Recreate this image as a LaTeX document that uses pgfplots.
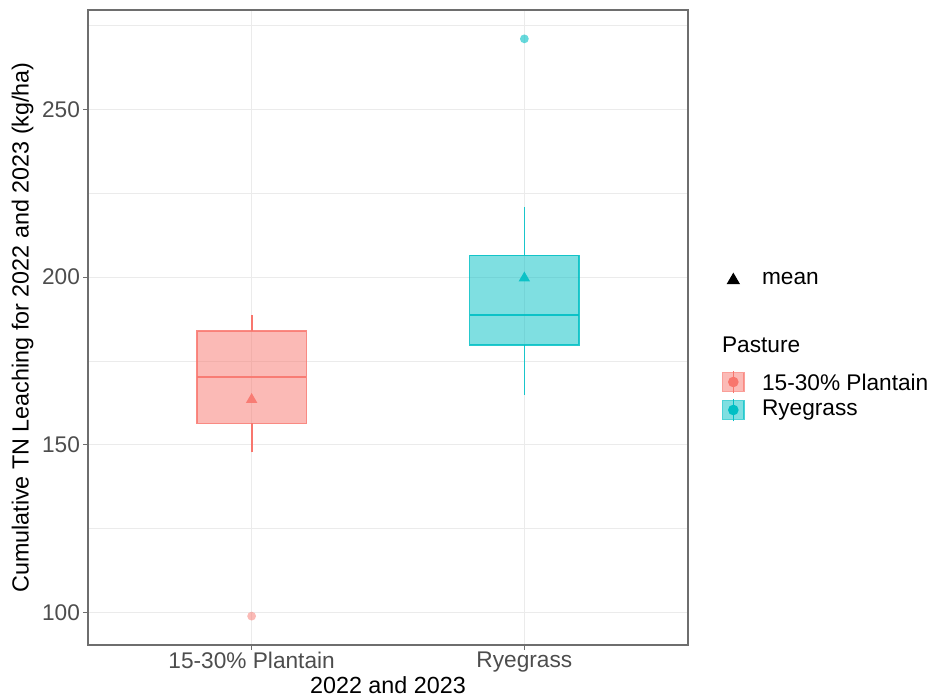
\documentclass[border=0pt]{standalone}
\usepackage{fontspec}
\setmainfont{Liberation Sans}
\usepackage{pgfplots}
\pgfplotsset{compat=1.18}
\definecolor{plantcol}{HTML}{F8766D}
\definecolor{ryecol}{HTML}{00BFC4}
\definecolor{gridcol}{HTML}{EBEBEB}
\definecolor{tickcol}{HTML}{4D4D4D}
\definecolor{bordercol}{HTML}{6E6E6E}
\begin{document}
\begin{tikzpicture}
\path[use as bounding box] (-66pt,-40.5pt) rectangle (633.75pt,483.75pt);
\begin{axis}[
  at={(0,0)}, anchor=south west,
  scale only axis, width=450pt, height=476.25pt,
  xmin=0.4, xmax=2.6, ymin=90.4, ymax=279.6,
  xtick={1,2}, xticklabels={15-30\% Plantain, Ryegrass},
  ytick={100,150,200,250}, minor ytick={125,175,225,275},
  xmajorgrids, ymajorgrids, yminorgrids,
  grid style={gridcol, line width=0.8pt},
  minor grid style={gridcol, line width=0.6pt},
  axis line style={bordercol, line width=0.8pt},
  tick style={bordercol, line width=0.8pt},
  major tick length=3.5pt, minor tick length=0pt,
  tick align=outside, xtick pos=bottom, ytick pos=left,
  /pgf/number format/assume math mode=true,
  tick label style={font=\fontsize{17}{20}\selectfont, text=tickcol},
  yticklabel style={xshift=1pt},
  xticklabel style={yshift=2pt},
  xlabel={2022 and 2023},
  ylabel={Cumulative TN Leaching for 2022 and 2023 (kg/ha)},
  label style={font=\fontsize{17.5}{20}\selectfont},
  xlabel style={at={(axis description cs:0.5,-0.063)}, anchor=center},
  ylabel style={at={(axis description cs:-0.109,0.5)}, anchor=center},
  clip=false,
]
% Plantain box: whiskers 147.8-188.7, quartiles 156.4/184, median 170.3
\addplot[plantcol, line width=1.4pt] coordinates {(1,147.8) (1,156.4)};
\addplot[plantcol, line width=1.4pt] coordinates {(1,184) (1,188.7)};
\addplot[fill=plantcol, fill opacity=0.5, draw=plantcol, draw opacity=0.85, line width=1pt]
  coordinates {(0.8,156.4) (1.2,156.4) (1.2,184) (0.8,184)} -- cycle;
\addplot[plantcol, draw opacity=0.9, line width=1.2pt] coordinates {(0.8,170.3) (1.2,170.3)};
% Ryegrass box: whiskers 165-220.8, quartiles 179.8/206.5, median 188.7
\addplot[ryecol!90!white, line width=1.2pt] coordinates {(2,165) (2,179.8)};
\addplot[ryecol!90!white, line width=1.2pt] coordinates {(2,206.5) (2,220.8)};
\addplot[fill=ryecol, fill opacity=0.5, draw=ryecol, draw opacity=0.85, line width=1pt]
  coordinates {(1.8,179.8) (2.2,179.8) (2.2,206.5) (1.8,206.5)} -- cycle;
\addplot[ryecol, draw opacity=0.9, line width=1.2pt] coordinates {(1.8,188.7) (2.2,188.7)};
% outliers
\addplot[only marks, mark=*, mark size=3.3pt, plantcol, mark options={fill=plantcol, fill opacity=0.5, draw opacity=0}] coordinates {(1,99)};
\addplot[only marks, mark=*, mark size=3.3pt, ryecol, mark options={fill=ryecol, fill opacity=0.6, draw opacity=0}] coordinates {(2,271)};
% means
\addplot[only marks, mark=triangle*, mark size=5pt, plantcol, mark options={fill=plantcol, draw opacity=0, fill opacity=0.9}] coordinates {(1,163.5)};
\addplot[only marks, mark=triangle*, mark size=5pt, ryecol, mark options={fill=ryecol, draw opacity=0, fill opacity=0.9}] coordinates {(2,199.7)};
\end{axis}
% legend
\fill[black] (484pt,274.5pt) ++(0,4.8pt) -- ++(-5pt,-8.6pt) -- ++(10pt,0) -- cycle;
\node[anchor=west, font=\fontsize{17}{20}\selectfont] at (502pt,274.5pt) {mean};
\node[anchor=west, font=\fontsize{17}{20}\selectfont] at (472pt,225pt) {Pasture};
\foreach \yy/\cc in {197.25/plantcol, 176.25/ryecol}{
  \fill[\cc, opacity=0.5] (476pt,\yy pt-7pt) rectangle (492pt,\yy pt+7pt);
  \draw[\cc, opacity=0.7, line width=0.8pt] (476pt,\yy pt-7pt) rectangle (492pt,\yy pt+7pt);
  \draw[\cc, line width=1pt] (484pt,\yy pt-8.5pt) -- (484pt,\yy pt+8.5pt);
  \fill[\cc] (484pt,\yy pt) circle (4pt);
}
\node[anchor=west, font=\fontsize{17}{20}\selectfont] at (502pt,197.25pt) {15-30\% Plantain};
\node[anchor=west, font=\fontsize{17}{20}\selectfont] at (502pt,176.25pt) {Ryegrass};
\end{tikzpicture}
\end{document}
